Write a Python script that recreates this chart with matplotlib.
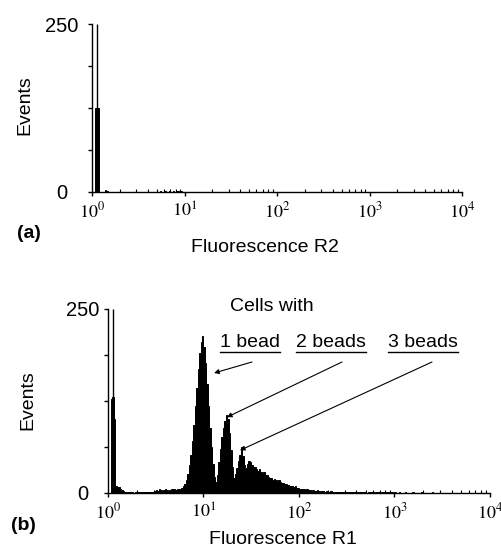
import numpy as np
import matplotlib
matplotlib.use('Agg')
import matplotlib.pyplot as plt
from matplotlib.ticker import LogLocator, NullFormatter

plt.rcParams['font.family'] = ['Liberation Sans', 'DejaVu Sans']
plt.rcParams['mathtext.fontset'] = 'stix'

# ---------------- data ----------------
channels_per_decade = 64
n_channels = 256

# panel (a): Fluorescence R2 histogram (sparse: channel index -> events)
a_channels = [2, 3, 4, 9, 10, 47, 50, 53, 56, 58, 59, 61]
a_counts = [125, 125, 125, 3, 2, 1, 1, 2, 1, 2, 1, 1]
a_overflow_channel = 3

# panel (b): Fluorescence R1 histogram, 256 channels
b_counts = (
    [0, 0]
    + [128, 131, 100]
    + [9, 8, 8, 6, 4, 3]
    + [1, 2, 1, 1, 2, 1, 0, 1, 2, 1, 1, 2, 1, 1, 2, 2, 1, 2, 1, 2]
    + [3, 4, 3, 5, 4, 3, 4, 5, 4, 3, 4, 5, 6, 5, 4]
    + [5, 6, 5, 7, 9]
    + [12, 18, 26, 38, 52, 70, 92, 118, 142, 168, 190, 205, 213, 198, 176,
       148, 118, 88, 62, 40, 22, 15]
    + [25, 42, 60, 76, 88, 98, 106, 100, 82, 58, 36, 20]
    + [26, 34, 44, 52, 62, 50, 38, 34, 40, 44]
    + [42, 38, 35, 36, 32, 30, 33, 28, 26, 28]
    + [24, 25, 22, 20, 21, 18, 19, 17, 16, 17, 15]
    + [14, 13, 12, 12, 11, 10, 10, 9, 8, 9, 7, 7, 6, 6, 5]
    + [5, 4, 5, 4, 4, 3, 4, 3, 3, 4, 3, 2, 3, 3, 2, 3, 2, 2, 3, 2]
    + [2, 1, 2, 2, 1, 2, 1, 1, 2, 1, 1, 2, 1, 1, 1, 2, 1, 1, 1, 2,
       1, 1, 0, 1, 2, 1, 1, 0, 1, 1, 1, 0, 1, 1, 0, 1, 1, 0, 1, 1]
    + [0, 1, 0, 0, 1, 0, 0, 0, 1, 0, 0, 0, 0, 1, 0, 0, 0, 0, 0, 1,
       0, 0, 0, 0, 0, 0, 1, 0, 0, 0, 0, 0, 0, 0, 0, 0, 0, 0, 0, 0,
       0, 0, 0, 0, 0, 0, 0, 0, 0, 0, 0, 0, 0, 0, 0, 0, 0, 0, 0, 0,
       0, 0, 0, 0, 0]
)
b_overflow_channel = 3

decade_ticks = [1, 10, 100, 1000, 10000]
decade_labels = [r'$10^{0}$', r'$10^{1}$', r'$10^{2}$', r'$10^{3}$', r'$10^{4}$']
ytick_values = [0, 62.5, 125, 187.5, 250]
ytick_labels = ['0', '', '', '', '250']

bead_labels = ['1 bead', '2 beads', '3 beads']
bead_label_x = [30.7, 216, 1987]
bead_label_y = 204
underline_y = 191.5
arrow_from = [(32.2, 178), (282, 178), (2470, 178)]
arrow_to = [(12.9, 163), (17.6, 103), (24.1, 58)]

# ---------------- figure ----------------
W, H = 502, 549
fig = plt.figure(figsize=(W / 100, H / 100), dpi=100)

edges = 10 ** (np.arange(n_channels + 1) / channels_per_decade)


def chan_center(ch):
    return 10 ** ((ch + 0.5) / channels_per_decade)


def setup(ax, ypad):
    ax.set_xscale('log')
    ax.set_xlim(1, 10000)
    ax.set_ylim(0, 250)
    for s in ['top', 'right']:
        ax.spines[s].set_visible(False)
    for s in ['left', 'bottom']:
        ax.spines[s].set_linewidth(1.0)
    ax.set_xticks(decade_ticks)
    ax.set_xticklabels(decade_labels, fontsize=13)
    ax.xaxis.set_minor_locator(LogLocator(base=10, subs=np.arange(2, 10)))
    ax.xaxis.set_minor_formatter(NullFormatter())
    ax.tick_params(axis='x', which='major', direction='out', length=3, width=1, pad=4)
    ax.tick_params(axis='x', which='minor', direction='in', length=2, width=0.8)
    ax.set_yticks(ytick_values)
    ax.set_yticklabels(ytick_labels, fontsize=14.5)
    ax.tick_params(axis='y', direction='out', length=3, width=1, pad=ypad)
    for lab in ax.get_yticklabels():
        lab.set_horizontalalignment('center')


def hist(ax, counts):
    ax.stairs(counts, edges, fill=True, facecolor='black', edgecolor='black',
              linewidth=0.7)


# panel (a)
ax1 = fig.add_axes([92 / W, 1 - 192 / H, 370 / W, 168 / H])
a_full = np.zeros(n_channels)
a_full[a_channels] = a_counts
hist(ax1, a_full)
ax1.vlines(chan_center(a_overflow_channel), 0, 250, color='black', lw=1.0)
setup(ax1, 19)

# panel (b)
ax2 = fig.add_axes([108 / W, 1 - 493 / H, 382 / W, 184 / H])
hist(ax2, np.array(b_counts, dtype=float))
ax2.vlines(chan_center(b_overflow_channel), 0, 250, color='black', lw=1.0)
setup(ax2, 15)

ax2.text(51.5, 254, 'Cells with', fontsize=14, ha='center', va='center')
texts = []
for lab, x in zip(bead_labels, bead_label_x):
    t = ax2.text(x, bead_label_y, lab, fontsize=14, ha='center', va='center')
    texts.append(t)
for (x0, y0), (x1, y1) in zip(arrow_from, arrow_to):
    ax2.annotate('', xy=(x1, y1), xytext=(x0, y0),
                 arrowprops=dict(arrowstyle='-|>', lw=0.8, color='black',
                                 mutation_scale=7, shrinkA=0, shrinkB=0))

# axis labels
fig.text(25 / W, 1 - 105 / H, 'Events', fontsize=14, rotation=90, ha='center', va='center')
fig.text(28 / W, 1 - 400 / H, 'Events', fontsize=14, rotation=90, ha='center', va='center')
fig.text(265 / W, 1 - 247 / H, 'Fluorescence R2', fontsize=14, ha='center', va='center')
fig.text(283 / W, 1 - 540 / H, 'Fluorescence R1', fontsize=14, ha='center', va='center')
fig.text(28.5 / W, 1 - 233 / H, '(a)', fontsize=14, fontweight='bold', ha='center', va='center')
fig.text(23.5 / W, 1 - 525 / H, '(b)', fontsize=14, fontweight='bold', ha='center', va='center')

# underlines for bead labels
fig.canvas.draw()
renderer = fig.canvas.get_renderer()
inv = ax2.transData.inverted()
for t in texts:
    bb = t.get_window_extent(renderer)
    xl = inv.transform((bb.x0, 0))[0]
    xr = inv.transform((bb.x1, 0))[0]
    ax2.plot([xl, xr], [underline_y, underline_y], color='black', lw=1.0,
             clip_on=False)

fig.savefig('out.png', dpi=100)
